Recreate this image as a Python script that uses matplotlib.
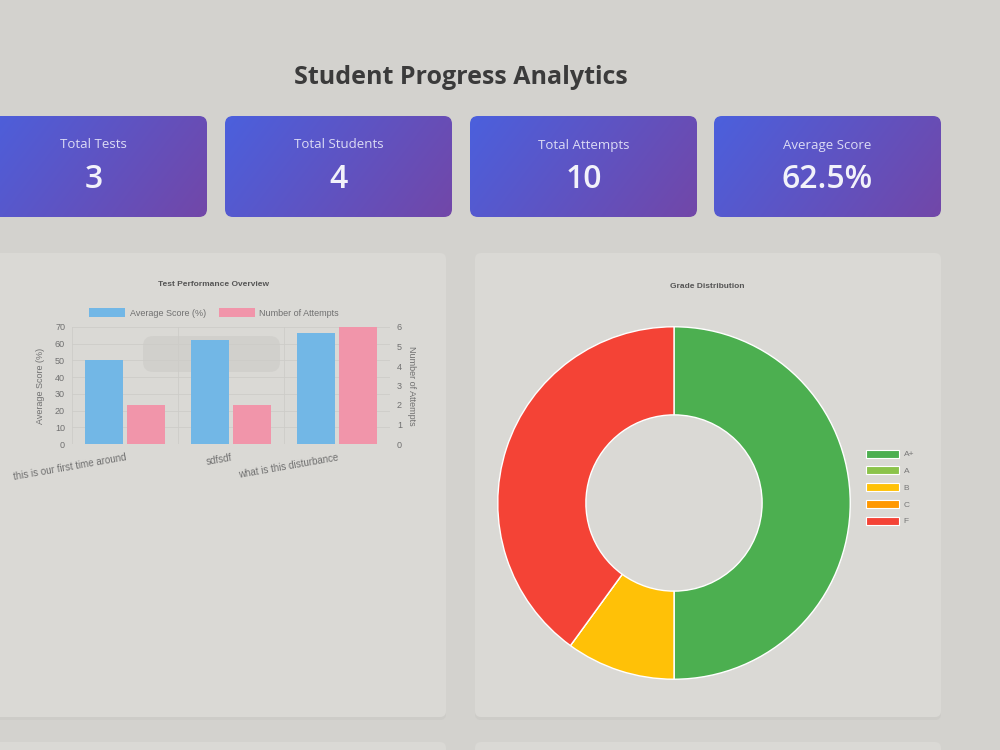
import numpy as np
import matplotlib
matplotlib.use("Agg")
import matplotlib.pyplot as plt
from matplotlib.patches import FancyBboxPatch, Patch

# === DATA ===
stat_labels = ["Total Tests", "Total Students", "Total Attempts", "Average Score"]
stat_values = ["3", "4", "10", "62.5%"]

tests = ["this is our first time around", "sdfsdf", "what is this disturbance"]
avg_scores = [50, 62.5, 66.7]
attempts = [2, 2, 6]

grades = ["A+", "A", "B", "C", "F"]
grade_counts = [5, 0, 1, 0, 4]
grade_colors = ["#4caf50", "#8bc34a", "#ffc107", "#ff9800", "#f44336"]

BG = "#d3d2ce"
PANEL = "#dad9d5"
CHART_FONT = "Liberation Sans"
UI_FONT = "Open Sans"

fig = plt.figure(figsize=(10, 7.5), dpi=100, facecolor=BG)

# overlay in pixel coords for page decoration
bg = fig.add_axes([0, 0, 1, 1], zorder=0)
bg.set_xlim(0, 1000)
bg.set_ylim(750, 0)
bg.axis("off")


def panel(x, y, w, h, color=PANEL, r=6):
    shadow = FancyBboxPatch((x, y + 3), w, h, boxstyle=f"round,pad=0,rounding_size={r}",
                            fc="#c9c8c4", ec="none", alpha=0.6)
    bg.add_patch(shadow)
    p = FancyBboxPatch((x, y), w, h, boxstyle=f"round,pad=0,rounding_size={r}",
                       fc=color, ec="none")
    bg.add_patch(p)
    return p


bg.text(461, 77, "Student Progress Analytics", ha="center", va="center",
        fontsize=18, fontweight="bold", color="#3b3b3b", family=UI_FONT)

# stat cards with gradient
grad = np.linspace(0, 1, 256)
gx, gy = np.meshgrid(grad, grad)
t = np.clip(0.75 * gx + 0.25 * gy, 0, 1)
c0 = np.array([0x4b, 0x60, 0xdd]) / 255
c1 = np.array([0x72, 0x47, 0xa8]) / 255
img = c0[None, None, :] * (1 - t[..., None]) + c1[None, None, :] * t[..., None]

card_x = [-20, 225, 470, 714]
for cx, lab, val in zip(card_x, stat_labels, stat_values):
    box = FancyBboxPatch((cx, 116), 227, 101, boxstyle="round,pad=0,rounding_size=8",
                         fc="none", ec="none")
    bg.add_patch(box)
    im = bg.imshow(img, extent=(cx, cx + 227, 217, 116), aspect="auto", zorder=1)
    im.set_clip_path(box)
    tx = cx + 227 / 2
    bg.text(tx, 145, lab, ha="center", va="center", fontsize=9.5,
            color="#dcdcf5", family=UI_FONT, zorder=2)
    bg.text(tx, 180, val, ha="center", va="center", fontsize=23, fontweight="semibold",
            color="#f2f2fa", family=UI_FONT, zorder=2)

# chart panels
panel(-20, 253, 466, 464)
panel(475, 253, 466, 464)
panel(-20, 742, 466, 40)
panel(475, 742, 466, 40)

# === BAR CHART ===
ax = fig.add_axes([0.072, 1 - 444 / 750, 0.318, 117 / 750], zorder=2)
ax.set_facecolor("none")
ax2 = ax.twinx()
x = np.arange(len(tests))
bw = 0.36
blue = "#72b7e6"
pink = "#f195aa"
ax.bar(x - 0.2, avg_scores, bw, color=blue, label="Average Score (%)")
ax2.bar(x + 0.2, attempts, bw, color=pink, label="Number of Attempts")
ax.set_xlim(-0.5, 2.5)
ax.set_ylim(0, 70)
ax2.set_ylim(0, 6)
ax.set_yticks(range(0, 71, 10))
ax2.set_yticks(range(0, 7))
ax.set_xticks(x)
ax.set_xticklabels(tests, rotation=10, ha="right", rotation_mode="anchor")
for a in (ax, ax2):
    for s in a.spines.values():
        s.set_visible(False)
    a.tick_params(length=0, labelsize=6.5, labelcolor="#707070", pad=5)
    for lbl in a.get_xticklabels() + a.get_yticklabels():
        lbl.set_family(CHART_FONT)
ax.tick_params(axis="x", labelsize=7, pad=6)
ax.set_axisbelow(True)
ax.yaxis.grid(True, color="#cdccc8", linewidth=0.6)
for xv in [-0.5, 0.5, 1.5, 2.5]:
    ax.axvline(xv, color="#cdccc8", linewidth=0.6, zorder=0)
ax.set_ylabel("Average Score (%)", fontsize=6.5, color="#707070", family=CHART_FONT, labelpad=7)
ax2.set_ylabel("Number of Attempts", fontsize=6.5, color="#707070", family=CHART_FONT,
               rotation=-90, labelpad=10)
bg.text(214, 285, "Test Performance Overview", ha="center", va="center", fontsize=6,
        fontweight="bold", color="#555555", family=CHART_FONT)
handles = [Patch(fc=blue, ec="none"), Patch(fc=pink, ec="none")]
ax.legend(handles, ["Average Score (%)", "Number of Attempts"], ncol=2,
          loc="center", bbox_to_anchor=(214 / 1000, 1 - 313 / 750),
          bbox_transform=fig.transFigure, frameon=False,
          prop={"family": CHART_FONT, "size": 6.5}, handlelength=4.0, handleheight=1.1,
          columnspacing=1.4, handletextpad=0.5, labelcolor="#707070")

# privacy blur over the bar chart
blur = FancyBboxPatch((143, 336), 137, 36, boxstyle="round,pad=0,rounding_size=10",
                      fc="#cbcac6", ec="none", alpha=0.55, transform=bg.transData)
fig.add_artist(blur)

# === DONUT ===
axd = fig.add_axes([0.496, 1 - 681 / 750, 0.356, 356 / 750], zorder=2)
axd.set_facecolor("none")
axd.pie(grade_counts, colors=grade_colors, startangle=90, counterclock=False,
        radius=1, wedgeprops=dict(width=0.5, edgecolor="white", linewidth=1))
axd.set_xlim(-1.01, 1.01)
axd.set_ylim(-1.01, 1.01)
axd.set_aspect("equal")
bg.text(707, 286, "Grade Distribution", ha="center", va="center", fontsize=6,
        fontweight="bold", color="#555555", family=CHART_FONT)
ghandles = [Patch(fc=c, ec="white", lw=0.8) for c in grade_colors]
axd.legend(ghandles, grades, loc="upper left", bbox_to_anchor=(858 / 1000, 1 - 442 / 750),
           bbox_transform=fig.transFigure, frameon=False,
           prop={"family": CHART_FONT, "size": 6}, handlelength=4.0, handleheight=1.1,
           labelspacing=0.95, handletextpad=0.6, labelcolor="#777777")

fig.savefig("out.png", dpi=100, facecolor=BG)
